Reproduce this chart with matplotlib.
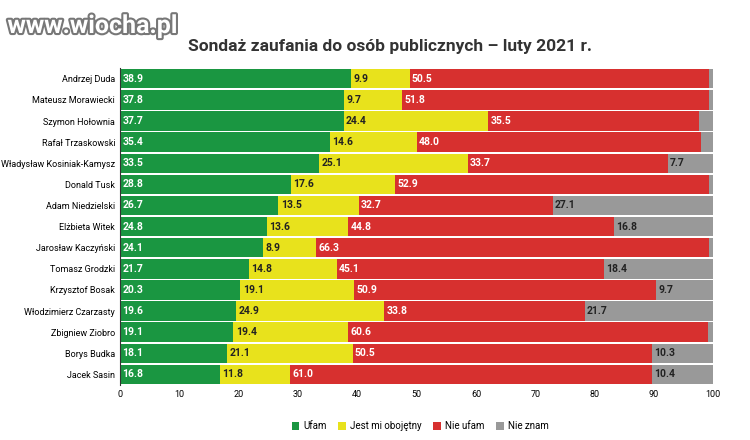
import matplotlib.pyplot as plt
import matplotlib.patheffects as pe
import numpy as np

plt.rcParams['font.family'] = ['Roboto', 'DejaVu Sans']

names = ['Andrzej Duda', 'Mateusz Morawiecki', 'Szymon Hołownia', 'Rafał Trzaskowski',
         'Władysław Kosiniak-Kamysz', 'Donald Tusk', 'Adam Niedzielski', 'Elżbieta Witek',
         'Jarosław Kaczyński', 'Tomasz Grodzki', 'Krzysztof Bosak', 'Włodzimierz Czarzasty',
         'Zbigniew Ziobro', 'Borys Budka', 'Jacek Sasin']
ufam = [38.9, 37.8, 37.7, 35.4, 33.5, 28.8, 26.7, 24.8, 24.1, 21.7, 20.3, 19.6, 19.1, 18.1, 16.8]
obojetny = [9.9, 9.7, 24.4, 14.6, 25.1, 17.6, 13.5, 13.6, 8.9, 14.8, 19.1, 24.9, 19.4, 21.1, 11.8]
nie_ufam = [50.5, 51.8, 35.5, 48.0, 33.7, 52.9, 32.7, 44.8, 66.3, 45.1, 50.9, 33.8, 60.6, 50.5, 61.0]
nie_znam = [0.7, 0.7, 2.4, 2.0, 7.7, 0.7, 27.1, 16.8, 0.7, 18.4, 9.7, 21.7, 0.9, 10.3, 10.4]

series = [('Ufam', ufam, '#1a9641', 'white'),
          ('Jest mi obojętny', obojetny, '#e8e21c', '#222222'),
          ('Nie ufam', nie_ufam, '#d7302f', 'white'),
          ('Nie znam', nie_znam, '#999999', '#222222')]

fig = plt.figure(figsize=(7.5, 4.4), dpi=100)
ax = fig.add_axes([0.16, 0.125, 0.803, 0.72])
y = np.arange(len(names))
left = np.zeros(len(names))
for label, vals, color, tc in series:
    vals = np.array(vals)
    ax.barh(y, vals, left=left, color=color, height=0.92, label=label)
    for yi, l, v in zip(y, left, vals):
        if v >= 5:
            ax.text(l + 0.4, yi, f'{v:.1f}', va='center', ha='left', fontsize=7.5,
                    fontweight='bold', color=tc)
    left += vals

ax.set_yticks(y)
ax.set_yticklabels(names, fontsize=6.5)
ax.set_ylim(len(names) - 0.5, -0.5)
ax.set_xlim(0, 101.5)
ax.set_xticks(range(0, 101, 10))
ax.tick_params(axis='x', labelsize=6.5, length=0)
ax.tick_params(axis='y', length=0)
for s in ['top', 'right', 'bottom']:
    ax.spines[s].set_visible(False)
ax.spines['left'].set_color('#333333')

fig.text(0.52, 0.885, 'Sondaż zaufania do osób publicznych – luty 2021 r.', ha='center',
         fontsize=12.5, fontweight='bold', color='#333333')
fig.text(0.01, 0.925, 'www.wiocha.pl', fontsize=18, fontweight='bold', color='white',
         path_effects=[pe.withStroke(linewidth=3, foreground='#777777')])

fig.legend(loc='lower center', bbox_to_anchor=(0.56, 0.0), ncol=4, frameon=False,
           fontsize=7, handlelength=0.8, handleheight=0.8, handletextpad=0.4,
           columnspacing=1.2)
fig.savefig('out.png')
